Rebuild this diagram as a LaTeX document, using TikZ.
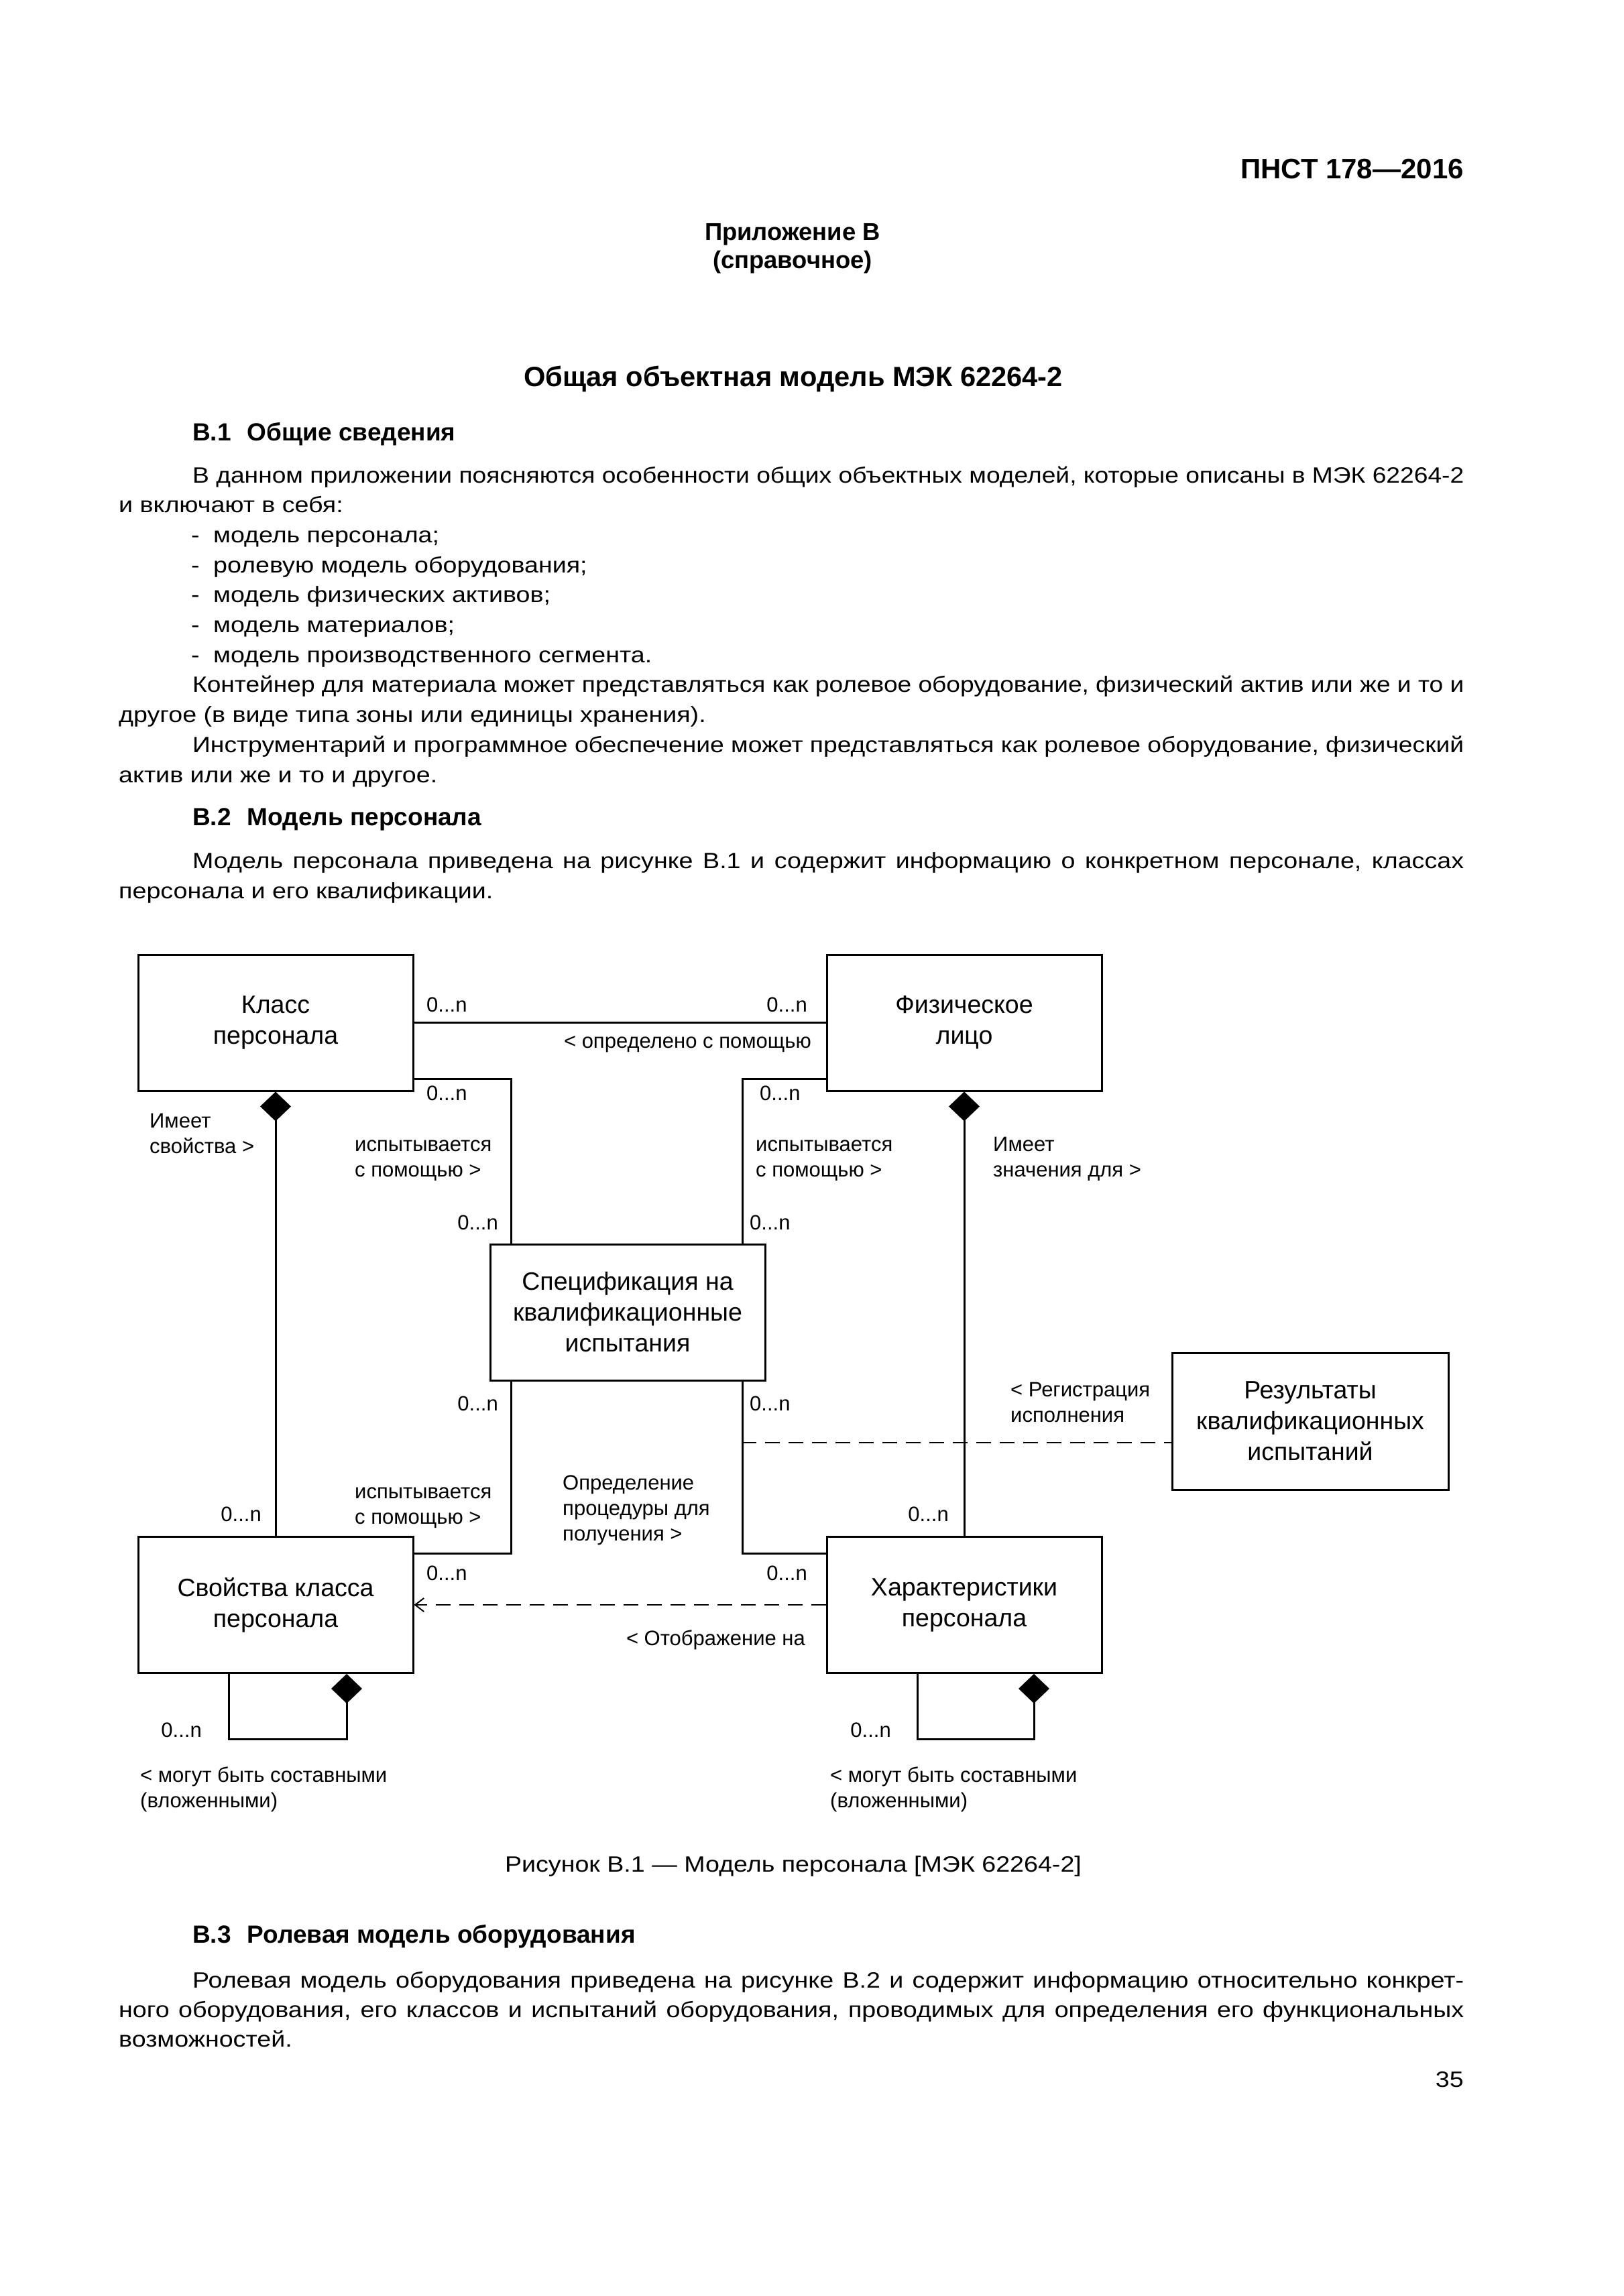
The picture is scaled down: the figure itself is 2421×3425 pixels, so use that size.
\documentclass[tikz,border=0pt]{standalone}
\usepackage{fontspec}
\usepackage{graphicx}
\setmainfont{Liberation Sans}
\newfontfamily\bodyfam[FakeStretch=1.14]{Liberation Sans}
\usetikzlibrary{arrows.meta,calc}
\newsavebox\jbox
\newcommand\jline[2]{\sbox\jbox{#2}\ifdim\wd\jbox>#1\relax\resizebox{#1}{\height}{\usebox\jbox}\else\makebox[#1][s]{#2}\fi}
\newcommand\bodyf{\bodyfam\fontsize{33}{44.7}\selectfont}
\newcommand\labf{\fontsize{31}{38}\selectfont}
\newcommand\boxf{\fontsize{37.5}{46}\selectfont}
\newcommand\ml[1]{\vtop{\halign{##\hfil\cr#1\crcr}}}
\newcommand\dsh{\makebox[33pt][l]{-}}
\begin{document}
\begin{tikzpicture}[x=1pt,y=-1pt,
  body/.style={anchor=base west,inner sep=0pt,font=\bodyf},
  bodyb/.style={anchor=base west,inner sep=0pt},
  lab/.style={inner sep=0pt,font=\labf},
  umlbox/.style={draw,line width=3pt,minimum width=410pt,minimum height=203pt,inner sep=0pt,align=center,font=\boxf},
  conn/.style={line width=3pt},
  dsh line/.style={line width=2pt,dash pattern=on 22pt off 13pt},
  comp/.style={conn,{Diamond[length=44pt,width=46pt]}-}
]
\fill[white] (0,0) rectangle (2421,3425);
\useasboundingbox (0,0) rectangle (2421,3425);

% header
\node[anchor=base east,inner sep=0pt,font=\fontsize{42}{48}\selectfont\bfseries] (hdr) at (2183,267) {ПНСТ 178—2016};
\node[anchor=base,inner sep=0pt,font=\fontsize{36.4}{42}\selectfont\bfseries] (app) at (1182,358) {Приложение В};
\node[anchor=base,inner sep=0pt,font=\fontsize{36.4}{42}\selectfont\bfseries] (app2) at (1182,400) {(справочное)};
\node[anchor=base,inner sep=0pt,font=\fontsize{41.6}{48}\selectfont\bfseries] (title) at (1183,576) {Общая объектная модель МЭК 62264-2};
\node[bodyb,font=\fontsize{37}{44}\selectfont\bfseries] (h1) at (287,657) {В.1\hspace{24pt}Общие сведения};

% body text
\node[body] (l1) at (287,720) {\jline{1896pt}{В данном приложении поясняются особенности общих объектных моделей, которые описаны в МЭК 62264-2}};
\node[body] (l2) at (177,764.7) {и включают в себя:};
\node[body] (l3) at (285,809.4) {\dsh модель персонала;};
\node[body] (l4) at (285,854.1) {\dsh ролевую модель оборудования;};
\node[body] (l5) at (285,898.8) {\dsh модель физических активов;};
\node[body] (l6) at (285,943.5) {\dsh модель материалов;};
\node[body] (l7) at (285,988.2) {\dsh модель производственного сегмента.};
\node[body] (l8) at (287,1032.9) {\jline{1896pt}{Контейнер для материала может представляться как ролевое оборудование, физический актив или же и то и}};
\node[body] (l9) at (177,1077.6) {другое (в виде типа зоны или единицы хранения).};
\node[body] (l10) at (287,1122.3) {\jline{1896pt}{Инструментарий и программное обеспечение может представляться как ролевое оборудование, физический}};
\node[body] (l11) at (177,1167) {актив или же и то и другое.};
\node[bodyb,font=\fontsize{37}{44}\selectfont\bfseries] (h2) at (287,1231) {В.2\hspace{24pt}Модель персонала};
\node[body] (l12) at (287,1295) {\jline{1896pt}{Модель персонала приведена на рисунке В.1 и содержит информацию о конкретном персонале, классах}};
\node[body] (l13) at (177,1340) {персонала и его квалификации.};

% diagram boxes
\node[umlbox] (klass) at (411,1525.5) {Класс\\персонала};
\node[umlbox] (fiz) at (1438,1525.5) {Физическое\\лицо};
\node[umlbox] (spec) at (936,1957.5) {Спецификация на\\квалификационные\\испытания};
\node[umlbox,minimum width=412pt,minimum height=204pt] (res) at (1954,2120) {Результаты\\квалификационных\\испытаний};
\node[umlbox] (svo) at (411,2394) {Свойства класса\\персонала};
\node[umlbox] (har) at (1438,2394) {Характеристики\\персонала};

% connectors
\draw[conn] (klass.east) -- (fiz.west);
\draw[conn] ([yshift=19pt]klass.south east) -| ([xshift=33pt]spec.north west);
\draw[conn] ([yshift=19pt]fiz.south west) -| ([xshift=-35pt]spec.north east);
\draw[comp] (klass.south) -- (svo.north);
\draw[comp] (fiz.south) -- (har.north);
\draw[conn] ([xshift=33pt]spec.south west) |- ([yshift=-26pt]svo.north east);
\draw[conn] ([xshift=-35pt]spec.south east) |- ([yshift=-26pt]har.north west);
\draw[dsh line,-{Straight Barb[length=13pt,width=20pt,line width=2pt]}] (har.west) -- (svo.east);
\coordinate (rj) at (1106,2152);
\draw[dsh line] (rj) -- ([yshift=-32pt]res.west);
\draw[comp] ([xshift=106pt]svo.south) -- ++(0,97) -| ([xshift=-70pt]svo.south);
\draw[comp] ([xshift=104pt]har.south) -- ++(0,97) -| ([xshift=-70pt]har.south);

% labels
\node[lab,anchor=base west] (m1) at (636,1509) {0...n};
\node[lab,anchor=base east] (m2) at (1204,1509) {0...n};
\node[lab,anchor=base east] (r1) at (1210,1563) {< определено с помощью};
\node[lab,anchor=base west] (m3) at (636,1641) {0...n};
\node[lab,anchor=base west] (m4) at (1133,1641) {0...n};
\node[lab,anchor=base west] (r2) at (223,1682) {\ml{Имеет\cr свойства >}};
\node[lab,anchor=base west] (r3) at (529,1717) {\ml{испытывается\cr с помощью >}};
\node[lab,anchor=base west] (r4) at (1127,1717) {\ml{испытывается\cr с помощью >}};
\node[lab,anchor=base west] (r5) at (1481,1717) {\ml{Имеет\cr значения для >}};
\node[lab,anchor=base east] (m5) at (743,1834) {0...n};
\node[lab,anchor=base west] (m6) at (1118,1834) {0...n};
\node[lab,anchor=base east] (m7) at (743,2104) {0...n};
\node[lab,anchor=base west] (m8) at (1118,2104) {0...n};
\node[lab,anchor=base west] (r6) at (1507,2083) {\ml{< Регистрация\cr исполнения}};
\node[lab,anchor=base west] (r7) at (529,2235) {\ml{испытывается\cr с помощью >}};
\node[lab,anchor=base west] (r8) at (839,2222) {\ml{Определение\cr процедуры для\cr получения >}};
\node[lab,anchor=base east] (m9) at (390,2269) {0...n};
\node[lab,anchor=base east] (m10) at (1415,2269) {0...n};
\node[lab,anchor=base west] (m11) at (636,2357) {0...n};
\node[lab,anchor=base east] (m12) at (1204,2357) {0...n};
\node[lab,anchor=base east] (r9) at (1201,2454) {< Отображение на};
\node[lab,anchor=base east] (m13) at (301,2591) {0...n};
\node[lab,anchor=base east] (m14) at (1329,2591) {0...n};
\node[lab,anchor=base west] (r10) at (209,2658) {\ml{< могут быть составными\cr (вложенными)}};
\node[lab,anchor=base west] (r11) at (1238,2658) {\ml{< могут быть составными\cr (вложенными)}};

% caption and following text
\node[anchor=base,inner sep=0pt,font=\bodyf] (cap) at (1183,2792) {Рисунок В.1 — Модель персонала [МЭК 62264-2]};
\node[bodyb,font=\fontsize{37}{44}\selectfont\bfseries] (h3) at (287,2898) {В.3\hspace{24pt}Ролевая модель оборудования};
\node[body] (l14) at (287,2965) {\jline{1896pt}{Ролевая модель оборудования приведена на рисунке В.2 и содержит информацию относительно конкрет-}};
\node[body] (l15) at (177,3009) {\jline{2006pt}{ного оборудования, его классов и испытаний оборудования, проводимых для определения его функциональных}};
\node[body] (l16) at (177,3053) {возможностей.};
\node[anchor=base east,inner sep=0pt,font=\bodyf] (pg) at (2183,3113) {35};
\end{tikzpicture}
\end{document}
